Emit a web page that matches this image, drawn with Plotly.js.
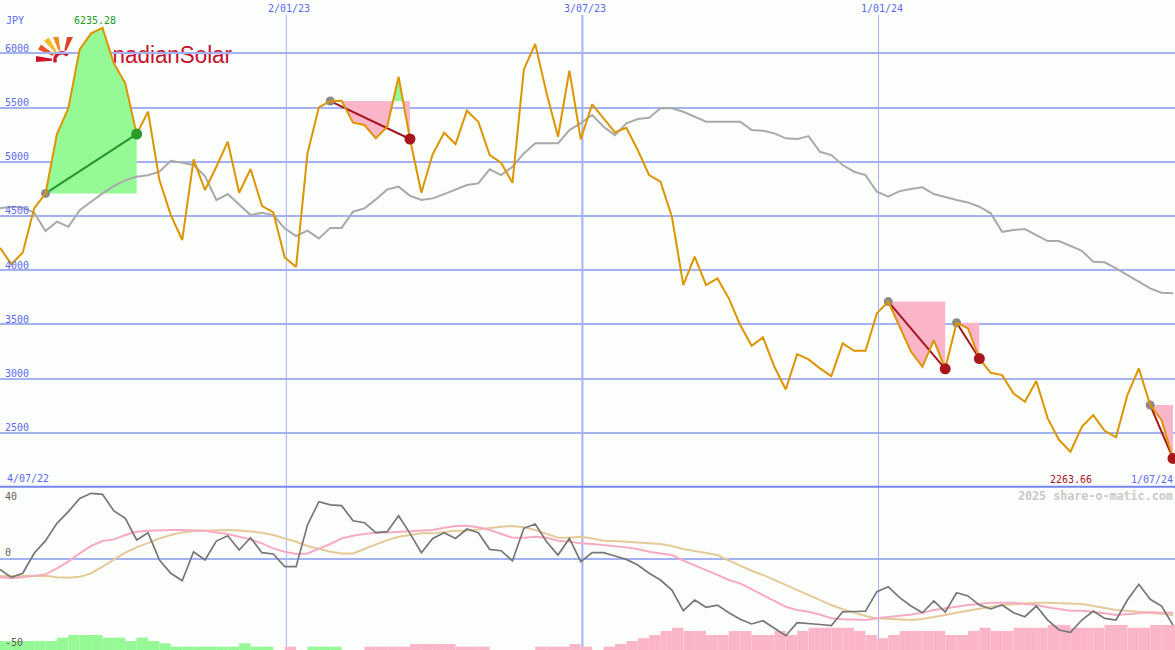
<!DOCTYPE html>
<html><head><meta charset="utf-8">
<script src="https://cdn.plot.ly/plotly-3.0.1.min.js"></script>
<style>html,body{margin:0;padding:0;background:#fcfefc;}#chart{width:1175px;height:650px;}</style>
</head><body><div id="chart"></div>
<script>
// ---------- data ----------
const firstDate = '2022-07-10';              // date of the first weekly close
const dateLines = ['2023-01-02', '2023-07-03', '2024-01-01'];
const dateLineLabels = ['2/01/23', '3/07/23', '1/01/24'];
const startLabel = '4/07/22';
const endLabel = '1/07/24';
const currency = 'JPY';
const priceTicks = [2500, 3000, 3500, 4000, 4500, 5000, 5500, 6000];
const oscTicks = ['40', '0', '-50'];

const price = [
  4207, 4054, 4164, 4570, 4708, 5255, 5493, 6037, 6184, 6235.28,
  5908, 5723, 5255, 5461, 4831, 4508, 4278, 5022, 4739, 4954,
  5185, 4714, 4933, 4594, 4533, 4118, 4030, 5077, 5502, 5560,
  5563, 5360, 5339, 5216, 5323, 5784, 5210, 4714, 5071, 5268,
  5163, 5471, 5369, 5062, 4991, 4806, 5852, 6086, 5631, 5231,
  5840, 5207, 5530, 5400, 5271, 5314, 5108, 4877, 4816, 4493,
  3863, 4124, 3863, 3924, 3740, 3494, 3303, 3380, 3109, 2900,
  3226, 3177, 3094, 3023, 3325, 3256, 3256, 3601, 3710, 3478,
  3247, 3109, 3355, 3090, 3515, 3463, 3185, 3053, 3032, 2863,
  2786, 2977, 2633, 2433, 2325, 2555, 2663, 2518, 2458, 2848,
  3094, 2756, 2617, 2263.66
];
const movingAvg = [
  4570, 4585, 4579, 4530, 4361, 4447, 4400, 4554, 4631, 4708,
  4776, 4831, 4862, 4875, 4908, 5009, 4991, 4970, 4868, 4647,
  4702, 4601, 4508, 4530, 4508, 4386, 4315, 4364, 4293, 4390,
  4390, 4539, 4570, 4653, 4745, 4770, 4686, 4647, 4662, 4702,
  4745, 4785, 4800, 4930, 4877, 4954, 5077, 5170, 5170, 5170,
  5292, 5357, 5431, 5323, 5246, 5354, 5394, 5406, 5493, 5493,
  5461, 5415, 5369, 5369, 5369, 5369, 5292, 5286, 5262, 5216,
  5209, 5237, 5092, 5062, 4970, 4908, 4877, 4723, 4677, 4729,
  4748, 4764, 4702, 4672, 4647, 4625, 4585, 4524, 4354, 4370,
  4379, 4324, 4268, 4268, 4222, 4179, 4078, 4072, 4017, 3955,
  3893, 3832, 3792, 3786
];
const osc = [
  -7.6, -13.3, -10.4, 3.9, 12.9, 25.3, 33.6, 43.1, 46.7, 46.0,
  34.1, 28.9, 13.4, 18.6, -0.9, -10.4, -15.7, 5.0, -0.9, 12.6,
  16.4, 6.2, 15.0, 4.3, 3.4, -5.7, -5.7, 24.1, 40.7, 38.4,
  37.9, 27.1, 25.7, 18.6, 19.3, 30.7, 18.1, 4.3, 14.5, 18.6,
  14.5, 21.2, 18.6, 6.7, 5.7, -1.4, 21.7, 24.8, 12.1, 2.6,
  14.5, -2.1, 4.3, 4.3, 1.9, -0.5, -4.5, -10.4, -15.2, -22.4,
  -37.1, -29.5, -34.7, -33.1, -38.6, -43.3, -46.6, -44.3, -49.7, -55.0,
  -45.7, -46.6, -47.0, -47.8, -37.9, -37.7, -37.4, -23.5, -20.0, -27.8,
  -33.8, -38.6, -30.2, -38.1, -24.3, -26.6, -33.1, -35.9, -33.1, -38.6,
  -41.4, -33.8, -43.8, -50.9, -52.6, -43.8, -37.4, -42.6, -43.8, -29.5,
  -18.3, -29.0, -33.8, -47.4
];
const oscPink = [
  -13.3, -14.0, -13.3, -12.4, -11.2, -6.9, -2.1, 3.8, 9.1, 12.6,
  13.8, 16.9, 19.3, 20.0, 20.5, 20.5, 20.5, 20.5, 20.0, 18.8,
  17.6, 15.7, 13.8, 11.0, 7.4, 5.0, 3.4, 3.8, 6.9, 10.5,
  14.5, 16.4, 17.6, 18.6, 18.8, 19.3, 19.8, 20.0, 20.5, 22.1,
  23.4, 23.6, 22.4, 20.5, 17.6, 15.0, 15.0, 15.7, 15.0, 12.9,
  12.1, 11.0, 10.5, 9.8, 9.1, 8.1, 6.9, 5.0, 3.8, 2.6,
  -1.4, -5.0, -8.1, -11.6, -15.2, -17.6, -21.9, -25.9, -30.0, -34.3,
  -36.6, -37.9, -39.8, -42.6, -43.3, -43.8, -43.8, -42.6, -41.4, -40.7,
  -39.8, -38.6, -36.6, -35.4, -33.8, -33.1, -32.4, -31.4, -31.4, -31.4,
  -32.4, -33.1, -34.7, -36.1, -37.1, -37.1, -37.9, -39.0, -40.2, -39.5,
  -38.6, -38.3, -38.6, -38.6
];
const oscTan = [
  -12.4, -12.4, -11.9, -11.9, -12.1, -13.3, -13.6, -12.9, -10.5, -5.7,
  -0.9, 4.3, 8.1, 11.4, 14.5, 16.9, 18.8, 19.8, 20.2, 20.5,
  20.5, 20.2, 19.3, 18.6, 16.9, 14.5, 12.1, 9.1, 6.9, 5.0,
  3.8, 3.8, 6.9, 10.2, 13.3, 15.7, 16.9, 18.1, 18.1, 19.3,
  20.0, 20.0, 21.0, 21.7, 22.9, 23.4, 22.4, 20.5, 17.6, 15.0,
  15.0, 15.7, 14.5, 12.9, 12.6, 12.1, 11.4, 11.0, 10.5, 9.1,
  6.9, 5.5, 3.8, 2.6, -1.4, -5.2, -8.6, -11.6, -15.2, -18.8,
  -21.9, -25.9, -29.5, -33.1, -36.1, -38.6, -40.9, -42.6, -43.1, -43.8,
  -43.8, -43.1, -41.4, -40.2, -38.6, -37.1, -35.4, -34.3, -33.1, -32.4,
  -31.9, -31.4, -31.4, -31.9, -32.4, -32.4, -33.8, -35.4, -36.6, -37.1,
  -37.9, -38.3, -39.0, -40.2
];
// trend histogram at the foot of the lower panel (positive = green, negative = pink)
const trendHist = [
  6.4, 6.4, 6.4, 6.4, 6.4, 8.8, 10.7, 10.7, 10.7, 8.8,
  8.8, 6.4, 8.8, 6.4, 4.8, 2.4, 2.4, 2.4, 2.4, 2.4,
  2.4, 4.8, 2.4, 2.4, 0, -2.4, 0, 2.4, 2.4, 2.4,
  0, 0, -2.4, -2.4, -2.4, -2.4, -4.3, -4.3, -4.3, -4.3,
  -2.4, -2.4, -2.4, 0, 0, 0, 0, -2.4, -2.4, -2.4,
  -4.3, -2.4, 0, -2.4, -4.3, -6.4, -8.4, -10.7, -13.6, -15.9,
  -13.6, -13.6, -10.7, -10.7, -13.6, -13.6, -10.7, -10.7, -13.6, -10.7,
  -13.6, -15.9, -15.9, -15.9, -15.9, -13.6, -10.7, -8.4, -10.7, -13.6,
  -13.6, -13.6, -13.6, -10.7, -10.7, -13.6, -15.9, -13.6, -13.6, -15.9,
  -15.9, -15.9, -17.9, -17.9, -15.9, -15.9, -15.9, -17.9, -17.9, -15.9,
  -15.9, -17.9, -17.9, -17.9
];
// trend episodes: index of start and end week
const trendStart = [4, 29, 78, 84, 101];
const trendEnd = [12, 36, 83, 86, 103];

// ---------- style ----------
const BG = '#fcfefc';
const GRID = '#a4b2f2';
const BLUE = '#5a6af0';
const ORANGE = '#dc9500';
const GREY_MA = '#a9a9a9';
const OSC = '#767676';
const PINK_LINE = '#f7abc3';
const TAN_LINE = '#e4c999';
const GREEN_FILL = '#95f995';
const PINK_FILL = '#fab5c9';
const UP_LINE = '#23962a';
const DOWN_LINE = '#a3161c';
const FONT = 'DejaVu Sans Mono, Liberation Mono, monospace';
const Y_MAIN = [2000, 6492];
const Y_LOW = [-65.2, 50.5];

const idx = price.map((_, i) => i);
const weekPos = d => (Date.parse(d) - Date.parse(firstDate)) / (7 * 864e5);

const traces = [];
// histogram bars (lower panel, drawn from the panel floor)
traces.push({
  type: 'bar', x: idx, y: trendHist.map(v => Math.abs(v)), base: Y_LOW[0],
  offset: 0, width: 1, yaxis: 'y2',
  marker: {color: trendHist.map(v => v >= 0 ? GREEN_FILL : PINK_FILL), line: {width: 0}},
  hoverinfo: 'skip'
});
traces.push({x: idx, y: oscTan, yaxis: 'y2', mode: 'lines', line: {color: TAN_LINE, width: 2}, hoverinfo: 'skip'});
traces.push({x: idx, y: oscPink, yaxis: 'y2', mode: 'lines', line: {color: PINK_LINE, width: 2}, hoverinfo: 'skip'});
traces.push({x: idx, y: osc, yaxis: 'y2', mode: 'lines', line: {color: OSC, width: 1.7}, hoverinfo: 'skip'});

// shaded areas between price and the level at which each trend started
trendStart.forEach((s, n) => {
  const e = trendEnd[n];
  const base = price[s];
  const fx = [], fy = [];
  for (let i = s; i <= e; i++) {
    fx.push(i); fy.push(price[i]);
    if (i < e) {
      const a = price[i] - base, b = price[i + 1] - base;
      if (a * b < 0) { fx.push(i + a / (a - b)); fy.push(base); }
    }
  }
  const by = fx.map(() => base);
  const common = {mode: 'lines', line: {width: 0}, hoverinfo: 'skip'};
  traces.push(Object.assign({x: fx, y: by}, common));
  traces.push(Object.assign({x: fx, y: fy.map(v => Math.max(v, base)), fill: 'tonexty', fillcolor: GREEN_FILL}, common));
  traces.push(Object.assign({x: fx, y: by}, common));
  traces.push(Object.assign({x: fx, y: fy.map(v => Math.min(v, base)), fill: 'tonexty', fillcolor: PINK_FILL}, common));
});

traces.push({x: idx, y: movingAvg, mode: 'lines', line: {color: GREY_MA, width: 2}, hoverinfo: 'skip'});

trendStart.forEach((s, n) => {
  const e = trendEnd[n];
  const up = price[e] > price[s];
  traces.push({x: [s, e], y: [price[s], price[e]], mode: 'lines',
    line: {color: up ? UP_LINE : DOWN_LINE, width: 2}, hoverinfo: 'skip'});
});
traces.push({x: trendStart, y: trendStart.map(i => price[i]), mode: 'markers',
  marker: {color: '#8a8a8a', size: 9}, hoverinfo: 'skip'});
traces.push({x: idx, y: price, mode: 'lines', line: {color: ORANGE, width: 2}, hoverinfo: 'skip'});
traces.push({x: trendEnd, y: trendEnd.map(i => price[i]), mode: 'markers',
  marker: {color: trendEnd.map((e, n) => price[e] > price[trendStart[n]] ? '#2a9a2a' : '#a8161c'), size: 11},
  hoverinfo: 'skip'});

// ---------- annotations ----------
const ann = [];
const A = (o) => ann.push(Object.assign({showarrow: false, font: {family: FONT, size: 10, color: BLUE}}, o));
priceTicks.forEach(v => A({text: String(v), xref: 'paper', x: 0, xanchor: 'left', xshift: 3,
  yref: 'y', y: v, yanchor: 'middle', yshift: 5}));
A({text: currency, xref: 'paper', x: 0, xanchor: 'left', xshift: 4, yref: 'paper', y: 1 - 21 / 650, yanchor: 'middle'});
dateLines.forEach((d, n) => A({text: dateLineLabels[n], xref: 'x', x: weekPos(d), xanchor: 'center', xshift: 3,
  yref: 'paper', y: 1, yanchor: 'top', yshift: -1}));
const maxVal = Math.max(...price), minVal = Math.min(...price);
A({text: maxVal.toFixed(2), xref: 'x', x: price.indexOf(maxVal), xanchor: 'center', xshift: -7,
  yref: 'y', y: maxVal, yanchor: 'bottom', yshift: 0, font: {family: FONT, size: 10, color: '#239a23'}});
A({text: minVal.toFixed(2), xref: 'paper', x: 1071 / 1175, xanchor: 'center', yref: 'paper', y: 1 - 479 / 650,
  yanchor: 'middle', font: {family: FONT, size: 10, color: '#a8161c'}});
A({text: startLabel, xref: 'paper', x: 0, xanchor: 'left', xshift: 5, yref: 'paper', y: 1 - 478.5 / 650, yanchor: 'middle'});
A({text: endLabel, xref: 'paper', x: 1, xanchor: 'right', xshift: 0, yref: 'paper', y: 1 - 479 / 650, yanchor: 'middle'});
A({text: '<b>2025 share-o-matic.com</b>', xref: 'paper', x: 1, xanchor: 'right', xshift: 0, yref: 'paper',
  y: 1 - 496 / 650, yanchor: 'middle', font: {family: FONT, size: 11.7, color: '#c9c9c9'}});
const oscLabelY = [496.7, 552.7, 642.3];
oscTicks.forEach((t, n) => A({text: t, xref: 'paper', x: 0, xanchor: 'left', xshift: 3, yref: 'paper',
  y: 1 - oscLabelY[n] / 650, yanchor: 'middle', font: {family: FONT, size: 10, color: '#5e5e5e'}}));

// ---------- shapes ----------
const shapes = [];
dateLines.forEach((d, n) => shapes.push({type: 'line', xref: 'x', x0: weekPos(d), x1: weekPos(d),
  yref: 'paper', y0: 0, y1: 1 - 15 / 650, line: {color: GRID, width: n === 1 ? 2 : 1}, layer: 'below'}));
shapes.push({type: 'line', xref: 'paper', x0: 0, x1: 1, yref: 'paper', y0: 1 - 486.7 / 650, y1: 1 - 486.7 / 650,
  line: {color: '#7586f0', width: 2}, layer: 'above'});

// ---------- logo ----------
const rays = [[178, '#cf1430'], [150, '#e9552b'], [127, '#f6ba22'], [105, '#f08b25'], [71, '#de3e2a']];
const cx = 26, cy = 23;
const ray = (a, c) => {
  const r = a * Math.PI / 180, p = r + Math.PI / 2;
  const pt = (rad, w) => [cx + rad * Math.cos(r) + w * Math.cos(p), cy - rad * Math.sin(r) - w * Math.sin(p)];
  const pts = [pt(10, 1), pt(26, 3), pt(26, -3), pt(10, -1)].map(q => q[0].toFixed(1) + ',' + q[1].toFixed(1)).join(' ');
  return `<polygon points="${pts}" fill="${c}"/>`;
};
const logoSvg = `<svg xmlns="http://www.w3.org/2000/svg" width="200" height="30" viewBox="0 0 200 30">` +
  rays.map(r => ray(r[0], r[1])).join('') +
  `<path d="M19.4 25.4 A7 7 0 0 1 31.4 18.5" fill="none" stroke="#cc1530" stroke-width="3.5"/>` +
  `<text x="48" y="25.7" textLength="148" lengthAdjust="spacingAndGlyphs" font-family="Liberation Sans, Arial, sans-serif" font-size="23" fill="#c4122f">CanadianSolar</text></svg>`;

const layout = {
  width: 1175, height: 650, margin: {l: 0, r: 0, t: 0, b: 0, pad: 0},
  paper_bgcolor: BG, plot_bgcolor: 'rgba(0,0,0,0)', showlegend: false, hovermode: false,
  xaxis: {range: [0, 1175 / 11.388], showgrid: false, zeroline: false, showticklabels: false, showline: false, ticks: ''},
  yaxis: {domain: [163 / 650, 1], range: Y_MAIN, tickvals: priceTicks, showticklabels: false, ticks: '',
    showgrid: true, gridcolor: GRID, gridwidth: 2, zeroline: false, showline: false},
  yaxis2: {domain: [0, 162 / 650], range: Y_LOW, tickvals: [0], showticklabels: false, ticks: '',
    showgrid: true, gridcolor: GRID, gridwidth: 2, zeroline: false, showline: false},
  annotations: ann, shapes: shapes,
  images: [{source: 'data:image/svg+xml;charset=utf-8,' + encodeURIComponent(logoSvg),
    xref: 'paper', yref: 'paper', x: 36 / 1175, y: 1 - 37 / 650, sizex: 200 / 1175, sizey: 30 / 650,
    xanchor: 'left', yanchor: 'top', sizing: 'stretch', layer: 'below'}]
};
Plotly.newPlot('chart', traces, layout, {staticPlot: true, displayModeBar: false});
</script></body></html>
